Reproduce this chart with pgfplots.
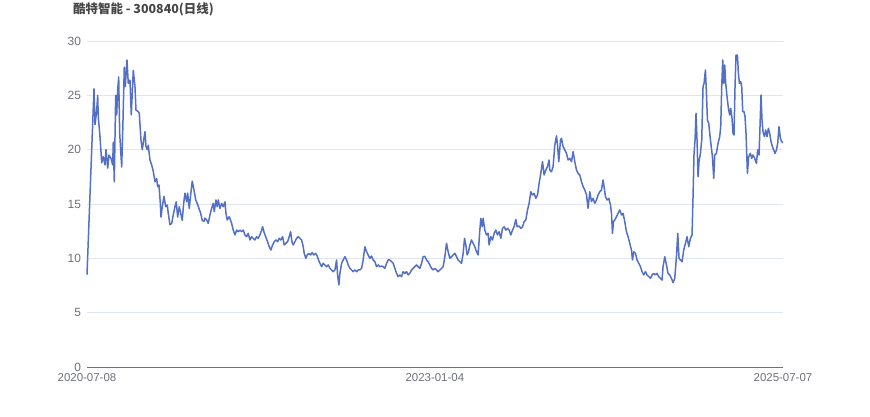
\documentclass[border=0pt]{standalone}
\usepackage{pgfplots}
\pgfplotsset{compat=1.18}
\usepackage{fontspec}
\setmainfont{Liberation Sans}
\newfontfamily\cjk{Noto Sans CJK SC}
\definecolor{linecol}{HTML}{5470C6}
\definecolor{gridcol}{HTML}{E0E6F1}
\definecolor{labcol}{HTML}{6E7079}
\definecolor{titlecol}{HTML}{464646}
\begin{document}
\begin{tikzpicture}
\useasboundingbox (-87bp,-50bp) rectangle (783bp,367bp);
\begin{axis}[
  at={(0,0)}, anchor=origin,
  scale only axis, width=696bp, height=326bp,
  xmin=0, xmax=696.3, ymin=0, ymax=30,
  axis x line*=bottom, axis y line*=left,
  x axis line style={draw=labcol, line width=0.8bp},
  y axis line style={draw=none},
  ytick={0,5,10,15,20,25,30},
  xtick={0,348,696.3},
  xticklabels={2020-07-08,2023-01-04,2025-07-07},
  major tick length=0pt,
  ymajorgrids, grid style={draw=gridcol, line width=0.8bp},
  tick label style={color=labcol},
  yticklabel style={font=\fontsize{12}{12}\selectfont, xshift=-2.5bp},
  xticklabel style={font=\fontsize{11.5}{12}\selectfont, yshift=-3bp},
  /pgf/number format/assume math mode=true,
  clip=false,
]
\addplot[linecol, line width=1.5bp, line join=round] coordinates {
(0,8.5)(7,25.6)(8,22.3)(9.7,23.6)(10.7,25.0)(11.3,23.0)(13,21.2)(14.7,18.8)(16.3,19.35)(18,18.6)(19,20.0)(20.7,18.3)(22,19.5)(24,19.2)(25.7,18.6)(26.3,20.7)(27.3,17.05)(28.7,25.0)(29.7,23.2)(30.7,25.5)(31.7,26.7)(32.7,21.5)(34.7,18.4)(35.7,21.5)(37.3,27.6)(38.3,25.8)(40,28.25)(41.3,26.1)(43,26.4)(44.3,23.2)(46.3,27.3)(48,25.8)(49,23.65)(51.3,23.5)(52.3,23.35)(54,20.9)(55.3,20.0)(57,21.05)(58,21.65)(59,20.3)(60.3,20.0)(61.3,20.4)(63,19.05)(64.7,18.6)(66.3,18.0)(68,17.05)(69.7,17.35)(70.7,16.6)(72,16.75)(73.3,15.1)(74,13.8)(75.3,14.75)(77,15.7)(78.7,14.75)(80.3,14.9)(81.3,14.15)(83,13.1)(84.7,13.2)(86.3,14.0)(88,14.75)(89.3,15.2)(90.7,13.8)(92.3,14.75)(93.7,14.15)(95.3,13.5)(96.7,15.05)(98,16.0)(99.7,15.2)(100.7,16.0)(102.3,14.6)(104,16.1)(105.3,17.1)(107,16.3)(108.7,15.4)(110.3,15.05)(112,14.6)(113.7,14.15)(115.3,13.5)(117,13.4)(118,13.7)
(119.7,13.53)(121.3,13.22)(123,13.99)(124.7,14.6)(126.3,15.06)(127.3,14.3)(129,15.37)(130.3,14.75)(131.3,15.37)(133,14.6)(134.7,15.06)(136.3,14.75)(138,15.2)(139,14.14)(140.3,13.53)(142.3,13.83)(144.7,13.22)(146.3,12.6)(148,12.15)(149.7,12.6)(151.3,12.45)(153,12.6)(154.7,12.45)(156.3,12.6)(158,12.15)(159.7,11.99)(161.3,12.3)(163,11.69)(164.7,11.99)(166.3,11.84)(168,11.69)(169.7,11.99)(171.3,11.84)(173,12.15)(174.7,12.6)(175.7,12.91)(177,12.45)(178.7,11.99)(180.7,11.53)(182.3,11.07)(184,10.77)(185.7,11.23)(187.3,11.53)(189,11.69)(190.7,11.53)(192.3,11.84)(194,11.69)(195.7,11.99)(197.3,11.23)(199,11.38)(200.7,11.53)(202.3,11.99)(203.7,12.45)(205,11.53)(206.3,11.23)(208,11.53)(209.7,11.84)(211.3,11.99)(213,11.84)(214.7,11.69)(216.3,11.07)(217.3,10.46)(219,10.0)(220.3,10.31)(222,10.46)(223.7,10.31)(225.3,10.52)(227,10.31)(228.7,10.46)(230.3,10.21)(232.3,9.69)
(233,9.54)(234.7,9.23)(236.3,9.54)(238,9.39)(239.7,9.23)(241.3,9.39)(243,9.08)(244.7,8.93)(246.3,8.77)(248,8.93)(249.7,9.85)(250.7,8.47)(252,7.55)(253,8.62)(254.7,9.54)(256.3,9.85)(258,10.15)(259.7,9.85)(261.3,9.39)(263,9.08)(264.7,8.93)(266.3,8.77)(268,8.93)(269.7,8.77)(271.3,8.93)(273,8.93)(274.7,9.08)(276.3,9.85)(278,11.07)(279.7,10.61)(281.3,10.31)(283,10.0)(284.7,10.21)(286.3,9.85)(288,9.69)(289.7,9.23)(291.3,9.39)(293,9.23)(294.7,9.29)(296.3,9.23)(298,9.08)(299.7,9.54)(301.3,9.85)(303,9.85)(304.7,9.69)(306.3,9.54)(308,9.08)(309.7,8.62)(311.3,8.31)(313,8.47)(314.7,8.31)(316.3,8.77)(318,8.62)(319.7,8.77)(321.3,8.47)(323,8.62)(324.7,8.93)(326.3,9.08)(328,9.23)(329.7,9.39)(331.3,9.23)(333,9.08)(334.7,9.54)(336.3,10.15)(338,10.18)(339.7,9.85)(341.3,9.69)(343,9.39)(344.7,9.08)(346.3,8.93)(348,9.08)
(349.7,8.93)(351.3,8.77)(353,8.93)(354.7,9.08)(356.3,9.23)(358,10.15)(359.7,11.38)(361.3,10.61)(363,10.0)(364.7,10.15)(366.3,10.31)(368,10.46)(369.7,10.15)(371.3,9.85)(373,9.69)(374.7,9.54)(376.3,10.46)(377.7,11.84)(379,11.23)(380.3,10.31)(381.7,10.61)(383,11.23)(384.7,11.69)(386.3,11.38)(388,11.07)(389.7,10.61)(391.3,10.31)(393,12.6)(394,13.68)(395.3,12.91)(396.3,13.68)(398,12.6)(399.7,12.15)(401.3,12.3)(402.3,11.23)(404,11.99)(405.7,11.69)(407.3,12.3)(409,12.6)(410.7,12.15)(412.3,12.45)(414,11.84)(415.7,12.76)(417.3,12.91)(419,12.6)(420.7,12.76)(422.3,12.6)(424,12.15)(425.7,12.6)(427.3,12.91)(429,13.59)(430.3,12.91)(432.3,12.97)(434,12.76)(435.7,12.91)(437.3,13.37)(439,13.53)(440.7,14.45)(442.3,15.06)(444,16.13)(445.7,15.83)(447.3,15.98)(449,15.52)(450.7,15.83)(452.3,16.9)(454,17.82)(455.7,18.9)(457.3,17.67)(459,18.13)(460.7,18.44)(462.3,19.05)
(463,18.13)(464.7,17.97)(466.3,18.44)(468,20.43)(469.7,21.26)(470.7,20.43)(472,18.9)(473.7,20.89)(474.7,21.04)(476.3,20.28)(478,19.97)(479.7,19.66)(481.3,19.05)(483,19.2)(484.7,18.9)(486.3,19.82)(488,18.9)(489.7,18.13)(491.3,17.82)(493,17.67)(494.7,17.06)(496.3,16.6)(498,16.29)(499.7,15.83)(501.3,14.6)(503,16.13)(504.7,15.22)(506.3,15.52)(508,15.06)(509.7,15.37)(511.3,15.83)(513,16.13)(514.7,16.29)(516.3,17.21)(517.3,16.6)(518.7,15.67)(520.3,15.37)(522,15.52)(523.7,14.91)(524.7,14.14)(525.7,12.3)(526.7,13.37)(528,13.53)(529.7,13.83)(531.3,14.14)(533,14.45)(534.7,13.99)(536.3,14.14)(538,13.37)(539.7,12.45)(541.3,11.99)(543,11.38)(544.7,10.77)(545.7,9.85)(547,10.61)(548.7,10.46)(550.3,9.85)(552,9.54)(553.7,9.23)(555.3,8.77)(557,8.47)(558.7,8.77)(560.3,8.47)(562,8.31)(563.7,8.16)(565.3,8.47)(567,8.62)(568.7,8.47)(570.3,8.62)(572,8.31)(573.7,8.16)(575.3,8.0)(576.3,9.23)
(578,10.15)(579.7,9.39)(581.3,8.62)(583,8.47)(584.7,8.16)(586.3,7.76)(588,8.16)(589.7,10.15)(591,12.3)(592.3,10.0)(593.7,9.85)(595.3,9.69)(597,10.77)(598.7,11.38)(600.3,11.99)(602,11.07)(603.7,11.84)(605.3,12.15)(606.3,15.67)(607.3,19.66)(608.3,20.89)(609.3,23.35)(610.3,20.89)(611.3,17.51)(612.3,18.9)(613.7,19.66)(615,20.89)(616.3,25.8)(617.3,26.1)(618.7,27.33)(619.7,25.18)(620.7,22.73)(622,22.42)(623,21.5)(624.7,20.12)(625.7,19.36)(627,17.36)(628,19.51)(629.7,19.66)(631.3,20.58)(633,21.2)(634,22.12)(635,25.8)(636,28.25)(637,26.1)(638,27.79)(639,26.1)(640.3,24.88)(641.7,23.8)(643,23.19)(644,23.8)(645.3,22.88)(646.3,21.5)(647.3,21.35)(648.3,25.8)(649.3,28.71)(650.7,28.71)(651.7,27.02)(652.7,26.1)(654,26.26)(655,25.8)(656,23.5)(657.3,23.5)(658.3,23.04)(659.3,21.5)(660.7,17.82)(662,19.36)(663.7,19.66)(665,19.2)(666.3,19.51)(668,19.2)(669.7,18.74)(671,19.97)(672.3,19.51)(673.3,22.12)(674.3,25.03)(675.3,22.73)(676.3,21.66)(677.7,21.2)(679,21.81)(680.3,21.2)(681.7,21.96)(683,21.5)(684.3,20.74)(685.7,20.28)(687,19.97)(688.3,19.66)(689.7,19.97)(691,20.58)(692.3,22.12)(693.7,21.04)(695,20.74)(696.3,20.64)
};
\end{axis}
\node[anchor=west, inner sep=0pt, text=titlecol, font=\cjk\bfseries\fontsize{12.5}{13}\selectfont] at (-14bp,358bp) {酷特智能 - 300840(日线)};
\end{tikzpicture}
\end{document}
